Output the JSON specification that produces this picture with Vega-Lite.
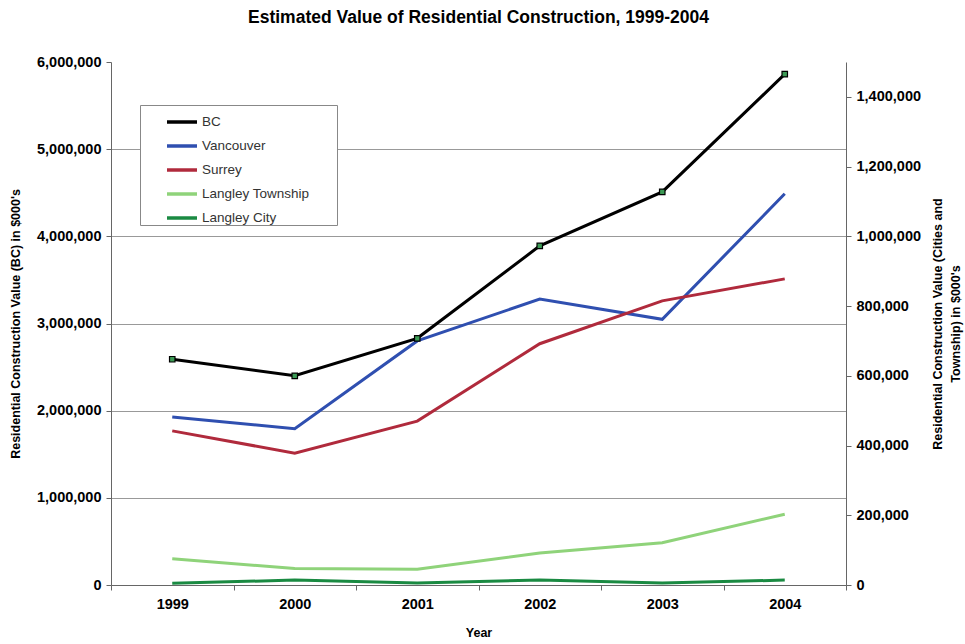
{
  "$schema": "https://vega.github.io/schema/vega-lite/v6.json",
  "width": 735,
  "height": 523,
  "autosize": {"type": "none"},
  "padding": {"left": 111, "top": 62, "right": 119, "bottom": 59},
  "background": "white",
  "title": {
    "text": "Estimated Value of Residential Construction, 1999-2004",
    "font": "Liberation Sans",
    "fontSize": 17.5,
    "fontWeight": "bold",
    "color": "#000",
    "anchor": "middle",
    "offset": 28
  },
  "config": {
    "view": {"stroke": null},
    "font": "Liberation Sans",
    "axis": {
      "domainColor": "#666",
      "tickColor": "#666",
      "labelFont": "Liberation Sans",
      "labelFontWeight": "bold",
      "labelFontSize": 14.5,
      "labelColor": "#000",
      "titleFont": "Liberation Sans",
      "titleFontWeight": "bold",
      "titleFontSize": 12.5,
      "titleColor": "#000",
      "tickSize": 5,
      "gridColor": "#999",
      "gridWidth": 1
    },
    "legend": {
      "labelFont": "Liberation Sans",
      "labelFontSize": 13.5,
      "labelColor": "#333"
    }
  },
  "data": {
    "values": [
      {"Year": "1999", "series": "BC", "value": 2590000},
      {"Year": "2000", "series": "BC", "value": 2400000},
      {"Year": "2001", "series": "BC", "value": 2830000},
      {"Year": "2002", "series": "BC", "value": 3890000},
      {"Year": "2003", "series": "BC", "value": 4510000},
      {"Year": "2004", "series": "BC", "value": 5860000},
      {"Year": "1999", "series": "Vancouver", "value": 482000},
      {"Year": "2000", "series": "Vancouver", "value": 448000},
      {"Year": "2001", "series": "Vancouver", "value": 700000},
      {"Year": "2002", "series": "Vancouver", "value": 820000},
      {"Year": "2003", "series": "Vancouver", "value": 762000},
      {"Year": "2004", "series": "Vancouver", "value": 1122000},
      {"Year": "1999", "series": "Surrey", "value": 442000},
      {"Year": "2000", "series": "Surrey", "value": 378000},
      {"Year": "2001", "series": "Surrey", "value": 470000},
      {"Year": "2002", "series": "Surrey", "value": 692000},
      {"Year": "2003", "series": "Surrey", "value": 815000},
      {"Year": "2004", "series": "Surrey", "value": 878000},
      {"Year": "1999", "series": "Langley Township", "value": 75000},
      {"Year": "2000", "series": "Langley Township", "value": 47000},
      {"Year": "2001", "series": "Langley Township", "value": 45000},
      {"Year": "2002", "series": "Langley Township", "value": 92000},
      {"Year": "2003", "series": "Langley Township", "value": 121000},
      {"Year": "2004", "series": "Langley Township", "value": 203000},
      {"Year": "1999", "series": "Langley City", "value": 5000},
      {"Year": "2000", "series": "Langley City", "value": 14000},
      {"Year": "2001", "series": "Langley City", "value": 6000},
      {"Year": "2002", "series": "Langley City", "value": 14000},
      {"Year": "2003", "series": "Langley City", "value": 6000},
      {"Year": "2004", "series": "Langley City", "value": 14000}
    ]
  },
  "encoding": {
    "x": {
      "field": "Year",
      "type": "ordinal",
      "scale": {"type": "band", "paddingInner": 0, "paddingOuter": 0},
      "axis": {"labelAngle": 0, "tickBand": "extent", "title": "Year", "titlePadding": 16, "labelPadding": 7}
    },
    "color": {
      "field": "series",
      "type": "nominal",
      "sort": ["BC", "Vancouver", "Surrey", "Langley Township", "Langley City"],
      "scale": {
        "domain": ["BC", "Vancouver", "Surrey", "Langley Township", "Langley City"],
        "range": ["#000000", "#2f4fb0", "#b02a3c", "#8fd37a", "#1a8a42"]
      },
      "legend": {
        "title": "\u00a0",
        "titleOrient": "right",
        "titlePadding": 28,
        "orient": "none",
        "legendX": 29,
        "legendY": 43,
        "symbolType": "stroke",
        "symbolStrokeWidth": 3.5,
        "symbolSize": 900,
        "symbolOffset": 25,
        "strokeColor": "#888",
        "fillColor": "white",
        "padding": 0,
        "rowPadding": 0,
        "labelOffset": 3
      }
    }
  },
  "layer": [
    {
      "transform": [{"filter": "datum.series !== 'BC'"}],
      "mark": {"type": "line", "strokeWidth": 3},
      "encoding": {
        "y": {
          "field": "value",
          "type": "quantitative",
          "scale": {"domain": [0, 1500000]},
          "axis": {
            "orient": "right",
            "values": [0, 200000, 400000, 600000, 800000, 1000000, 1200000, 1400000],
            "format": ",d",
            "grid": false,
            "labelPadding": 5,
            "titleAngle": -90,
            "titleLineHeight": 18,
            "title": ["Residential Construction Value (Cities and", "Township) in $000's"],
            "titlePadding": 6
          }
        }
      }
    },
    {
      "transform": [{"filter": "datum.series === 'BC'"}],
      "encoding": {
        "y": {
          "field": "value",
          "type": "quantitative",
          "scale": {"domain": [0, 6000000]},
          "axis": {
            "orient": "left",
            "values": [0, 1000000, 2000000, 3000000, 4000000, 5000000, 6000000],
            "format": ",d",
            "grid": true,
            "labelPadding": 5,
            "gridOpacity": {"condition": {"test": "datum.value === 6000000", "value": 0}, "value": 1},
            "title": "Residential Construction Value (BC) in $000's",
            "titlePadding": 14
          }
        }
      },
      "layer": [
        {"mark": {"type": "line", "strokeWidth": 3}},
        {"mark": {"type": "point", "shape": "square", "filled": true, "fill": "#3c9a55", "stroke": "#000", "strokeWidth": 1.2, "size": 30, "opacity": 1}}
      ]
    }
  ],
  "resolve": {"scale": {"y": "independent"}}
}
